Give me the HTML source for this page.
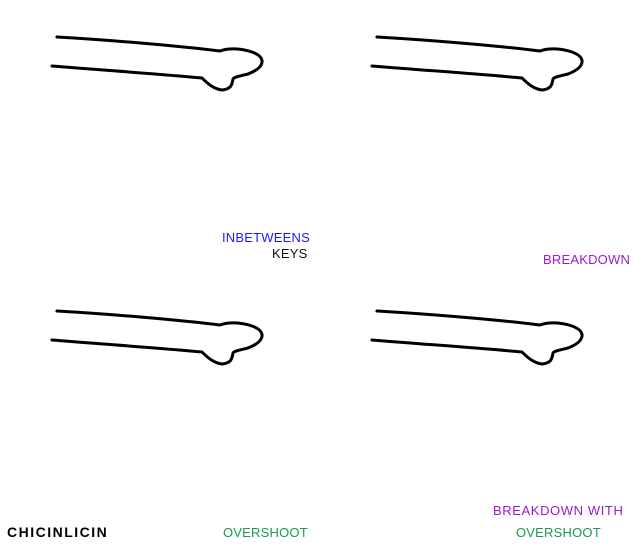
<!DOCTYPE html>
<html><head><style>
body{margin:0;width:640px;height:547px;background:#fff;position:relative;overflow:hidden;font-family:"Liberation Sans",sans-serif;}
.t{position:absolute;font-size:13px;line-height:14px;white-space:nowrap;letter-spacing:0.2px}
svg{position:absolute;left:0;top:0}
</style></head><body>
<svg width="640" height="547">
<defs>
<path id="f" d="M57,37 C110,40 180,46 220,51 C228,48 240,48 252,52 C266,57 266,67 248,74 C240,76 234,77 233,79 C232,84 232,89 222,90 C214,89 208,84 202,78 C160,74 100,70 52,66" fill="none" stroke="#000" stroke-width="3" stroke-linecap="round" stroke-linejoin="round"/>
</defs>
<use href="#f"/>
<use href="#f" x="320"/>
<use href="#f" y="274"/>
<use href="#f" x="320" y="274"/>
</svg>
<div class="t" style="left:222px;top:231px;color:#1a1aff">INBETWEENS</div>
<div class="t" style="left:272px;top:247px;color:#111">KEYS</div>
<div class="t" style="left:543px;top:253px;color:#9a1ad0">BREAKDOWN</div>
<div class="t" style="left:223px;top:526px;color:#1a9a55">OVERSHOOT</div>
<div class="t" style="left:493px;top:504px;color:#9a1ad0;letter-spacing:0.6px">BREAKDOWN WITH</div>
<div class="t" style="left:516px;top:526px;color:#1a9a55">OVERSHOOT</div>
<div class="t" style="left:7px;top:525px;color:#000;font-weight:bold;font-size:14px;letter-spacing:1.5px">CHICINLICIN</div>
</body></html>
